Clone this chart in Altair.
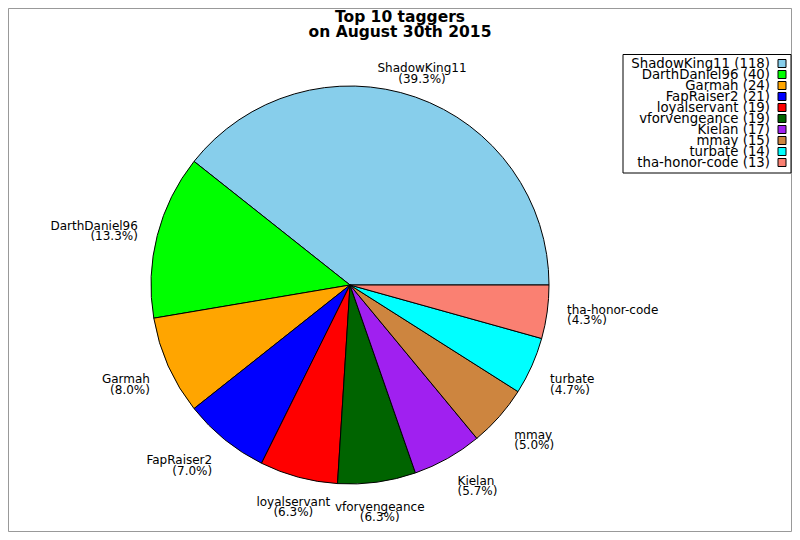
import math
import altair as alt
import pandas as pd

# ---- data ----
names = ["ShadowKing11", "DarthDaniel96", "Garmah", "FapRaiser2", "loyalservant",
         "vforvengeance", "Kielan", "mmay", "turbate", "tha-honor-code"]
counts = [118, 40, 24, 21, 19, 19, 17, 15, 14, 13]
colors = ["#87CEEB", "#00FF00", "#FFA500", "#0000FF", "#FF0000",
          "#006400", "#A020F0", "#CD853F", "#00FFFF", "#FA8072"]
title_text = "Top 10 taggers\non August 30th 2015"

df = pd.DataFrame({"name": names, "count": counts, "idx": list(range(len(names)))})

# ---- layout ----
W, H = 784, 524
CX, CY, R = 342, 277, 199
LABEL_R = 219
FONT = "DejaVu Sans"

total = sum(counts)
theta_scale = alt.Scale(domain=[0, total], range=[2.5 * math.pi, 0.5 * math.pi])
color = alt.Color("name:N", scale=alt.Scale(domain=names, range=colors), legend=None)

base = (
    alt.Chart(df)
    .transform_joinaggregate(total="sum(count)")
    .transform_window(cum="sum(count)", sort=[alt.SortField("idx")])
    .transform_calculate(
        start="datum.cum - datum.count",
        mid="datum.cum - datum.count / 2",
    )
    .transform_calculate(
        ang="2 * PI * datum.mid / datum.total",
        label="datum.name + '\\n(' + format(100 * datum.count / datum.total, '.1f') + '%)'",
        leglabel="datum.name + ' (' + datum.count + ')'",
    )
    .transform_calculate(
        ha="cos(datum.ang) > 0.4 ? 'left' : (cos(datum.ang) < -0.4 ? 'right' : 'center')",
        vb="sin(datum.ang) > 0.4 ? 'bottom' : (sin(datum.ang) < -0.3 ? 'top' : 'middle')",
    )
)

frame = alt.Chart(pd.DataFrame({"k": [0]})).mark_rect(
    fill="white", stroke="#999999", strokeWidth=1
).encode(x=alt.value(0.5), x2=alt.value(W - 0.5), y=alt.value(0.5), y2=alt.value(H - 0.5))

pie = base.mark_arc(outerRadius=R, stroke="black", strokeWidth=1).encode(
    theta=alt.Theta("start:Q", scale=theta_scale, stack=None),
    theta2="cum:Q",
    color=color,
    x=alt.value(CX),
    y=alt.value(CY),
)

label_layers = []
dys = {"top": 0, "middle": -5, "bottom": -3}
for ha in ["left", "center", "right"]:
    for vb in ["top", "middle", "bottom"]:
        lyr = (
            base.transform_filter(f"datum.ha == '{ha}' && datum.vb == '{vb}'")
            .mark_text(radius=LABEL_R, align=ha, baseline=vb, fontSize=12, font=FONT,
                       lineBreak="\n", lineHeight=10.5, dy=dys[vb], color="black")
            .encode(
                theta=alt.Theta("mid:Q", scale=theta_scale, stack=None),
                text=alt.Text("label:N"),
                x=alt.value(CX),
                y=alt.value(CY),
            )
        )
        label_layers.append(lyr)

# ---- legend (label text on the left, swatch on the right) ----
leg_y = alt.Y("name:N", scale=alt.Scale(type="point", domain=names, range=[55.5, 154.5], padding=0),
              axis=None)
legend_box = alt.Chart(pd.DataFrame({"k": [0]})).mark_rect(
    fill="white", stroke="black", strokeWidth=1
).encode(x=alt.value(615), x2=alt.value(783), y=alt.value(46.5), y2=alt.value(165))

leg_text = base.mark_text(align="right", baseline="middle", fontSize=13.3, font=FONT, color="black").encode(
    y=leg_y, x=alt.value(762), text=alt.Text("leglabel:N")
)
leg_sw = base.mark_square(size=64, opacity=1, stroke="black", strokeWidth=1).encode(
    y=leg_y, x=alt.value(774), color=color
)

title = alt.Chart(pd.DataFrame({"t": [title_text]})).mark_text(
    align="center", baseline="top", fontSize=15.5, fontWeight="bold", font=FONT,
    lineBreak="\n", lineHeight=15, color="black"
).encode(x=alt.value(392), y=alt.value(2), text="t:N")

chart = (
    alt.layer(frame, pie, *label_layers, legend_box, leg_text, leg_sw, title)
    .properties(width=W, height=H, padding=0, autosize=alt.AutoSizeParams(type="none"))
    .configure_view(stroke=None)
    .configure(font=FONT)
)

chart.save("out.html", embed_options={"renderer": "svg", "actions": False})
